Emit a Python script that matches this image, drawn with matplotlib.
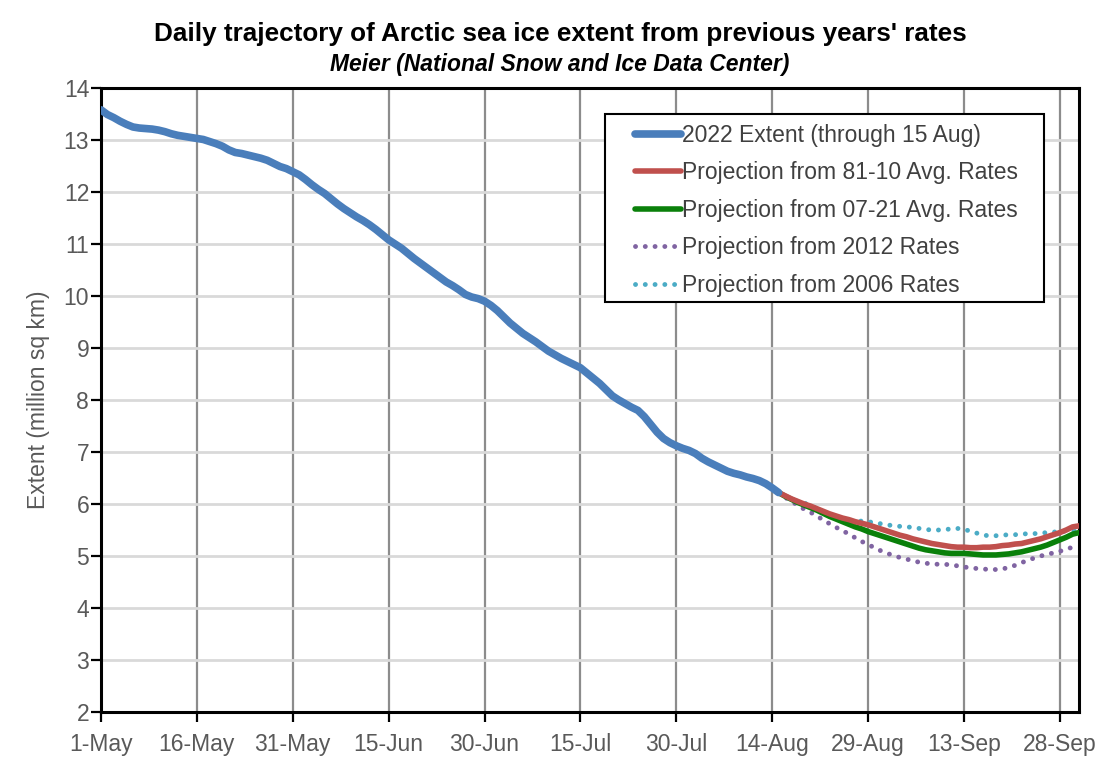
import matplotlib
matplotlib.use("Agg")
import matplotlib.pyplot as plt
from matplotlib.patches import Rectangle
import numpy as np

# ---- data ----
x_tick_labels = ["1-May", "16-May", "31-May", "15-Jun", "30-Jun", "15-Jul",
                 "30-Jul", "14-Aug", "29-Aug", "13-Sep", "28-Sep"]
x_tick_days = [0, 15, 30, 45, 60, 75, 90, 105, 120, 135, 150]

extent_2022 = [13.58, 13.49, 13.43, 13.36, 13.30, 13.25, 13.23, 13.22, 13.21, 13.19,
               13.16, 13.12, 13.09, 13.07, 13.05, 13.03, 13.01, 12.97, 12.93, 12.88,
               12.81, 12.76, 12.74, 12.71, 12.68, 12.65, 12.61, 12.55, 12.49, 12.45,
               12.39, 12.33, 12.24, 12.14, 12.05, 11.97, 11.87, 11.77, 11.68, 11.60,
               11.52, 11.45, 11.37, 11.28, 11.18, 11.08, 11.00, 10.92, 10.82, 10.72,
               10.63, 10.54, 10.45, 10.36, 10.27, 10.20, 10.12, 10.03, 9.98, 9.95,
               9.90, 9.82, 9.72, 9.60, 9.48, 9.38, 9.28, 9.20, 9.12, 9.03,
               8.94, 8.87, 8.80, 8.74, 8.68, 8.62, 8.52, 8.42, 8.32, 8.20,
               8.08, 8.00, 7.93, 7.86, 7.80, 7.68, 7.53, 7.38, 7.26, 7.18,
               7.12, 7.07, 7.03, 6.97, 6.88, 6.81, 6.75, 6.69, 6.63, 6.59,
               6.56, 6.52, 6.49, 6.45, 6.39, 6.31, 6.22]

proj_start_day = 106
proj_8110 = [6.22, 6.16, 6.10, 6.05, 6.00, 5.96, 5.91, 5.86, 5.81, 5.77,
             5.73, 5.70, 5.66, 5.63, 5.60, 5.56, 5.52, 5.48, 5.44, 5.40,
             5.37, 5.33, 5.30, 5.27, 5.24, 5.22, 5.20, 5.18, 5.17, 5.17,
             5.16, 5.16, 5.17, 5.17, 5.18, 5.20, 5.21, 5.23, 5.24, 5.27,
             5.30, 5.33, 5.37, 5.41, 5.45, 5.50, 5.56, 5.58]
proj_0721 = [6.22, 6.15, 6.09, 6.03, 5.98, 5.93, 5.88, 5.82, 5.76, 5.71,
             5.66, 5.61, 5.56, 5.52, 5.47, 5.43, 5.39, 5.35, 5.31, 5.27,
             5.23, 5.19, 5.15, 5.12, 5.10, 5.08, 5.06, 5.05, 5.05, 5.05,
             5.04, 5.03, 5.02, 5.02, 5.02, 5.03, 5.04, 5.06, 5.08, 5.11,
             5.14, 5.17, 5.21, 5.26, 5.31, 5.36, 5.42, 5.45]
proj_2012 = [6.22, 6.13, 6.05, 5.98, 5.90, 5.84, 5.77, 5.69, 5.62, 5.55,
             5.49, 5.42, 5.35, 5.28, 5.22, 5.16, 5.10, 5.05, 5.01, 4.97,
             4.94, 4.91, 4.88, 4.86, 4.85, 4.84, 4.84, 4.83, 4.81, 4.79,
             4.77, 4.76, 4.75, 4.74, 4.74, 4.75, 4.78, 4.82, 4.87, 4.92,
             4.96, 5.00, 5.03, 5.06, 5.09, 5.13, 5.17, 5.19]
proj_2006 = [6.22, 6.15, 6.09, 6.05, 6.02, 5.97, 5.91, 5.85, 5.80, 5.75,
             5.71, 5.69, 5.68, 5.67, 5.66, 5.64, 5.62, 5.60, 5.58, 5.57,
             5.56, 5.55, 5.53, 5.51, 5.50, 5.50, 5.51, 5.52, 5.53, 5.51,
             5.48, 5.44, 5.40, 5.39, 5.39, 5.40, 5.41, 5.41, 5.42, 5.43,
             5.43, 5.44, 5.45, 5.46, 5.47, 5.48, 5.48, 5.49]

labels = ["2022 Extent (through 15 Aug)", "Projection from 81-10 Avg. Rates",
          "Projection from 07-21 Avg. Rates", "Projection from 2012 Rates",
          "Projection from 2006 Rates"]

# ---- plot ----
plt.rcParams['font.family'] = ['Liberation Sans', 'DejaVu Sans']
W, H = 1120, 772
fig = plt.figure(figsize=(W / 100, H / 100), dpi=100)
ax = fig.add_axes([101/W, 1-712/H, (1079-101)/W, (712-88)/H])

days_2022 = np.arange(len(extent_2022))
days_proj = np.arange(proj_start_day, proj_start_day + len(proj_8110))

dot = (0, (0.01, 2.0))
ax.plot(days_proj, proj_2006, color='#4BACC6', lw=3.5, linestyle=dot,
        dash_capstyle='round', label=labels[4], zorder=3)
ax.plot(days_proj, proj_2012, color='#8064A2', lw=3.5, linestyle=dot,
        dash_capstyle='round', label=labels[3], zorder=3)
ax.plot(days_proj, proj_0721, color='#0A800A', lw=4, solid_capstyle='round',
        label=labels[2], zorder=4)
ax.plot(days_proj, proj_8110, color='#C0504D', lw=4, solid_capstyle='round',
        label=labels[1], zorder=4)
ax.plot(days_2022, extent_2022, color='#4A7EBB', lw=5.5, solid_capstyle='round',
        label=labels[0], zorder=5)

ax.set_xlim(0, 153)
ax.set_ylim(2, 14)
ax.set_xticks(x_tick_days)
ax.set_xticklabels(x_tick_labels)
ax.set_yticks(range(2, 15))

ax.grid(axis='x', color='#8c8c8c', lw=1.6, zorder=1)
ax.grid(axis='y', color='#d9d9d9', lw=2.0, zorder=1)
ax.set_axisbelow(True)
for s in ax.spines.values():
    s.set_color('black')
    s.set_linewidth(2.2)
ax.tick_params(axis='both', direction='out', length=7, width=1.6, color='black',
               labelsize=16.5, labelcolor='#595959')
ax.tick_params(axis='x', pad=8)
ax.tick_params(axis='y', pad=1.5)

ax.set_ylabel("Extent (million sq km)", fontsize=16.5, color='#595959', labelpad=10)

fig.text(0.5, 1-34/H, "Daily trajectory of Arctic sea ice extent from previous years' rates",
         ha='center', va='center', fontsize=18.8, fontweight='bold')
fig.text(0.5, 1-65/H, "Meier (National Snow and Ice Data Center)",
         ha='center', va='center', fontsize=16.5, fontweight='bold', style='italic')

handles, labs = ax.get_legend_handles_labels()
order = [4, 3, 2, 1, 0]
leg = ax.legend([handles[i] for i in order], [labs[i] for i in order],
                loc='upper left', bbox_to_anchor=((635-101)/978, (712-124)/624),
                borderaxespad=0, frameon=False, fontsize=16.5,
                handlelength=2.0, handletextpad=0.05, labelspacing=0.63,
                borderpad=0, labelcolor='#404040')
leg.set_zorder(10)

fig.canvas.draw()
bb = leg.get_window_extent()
padl, padr, padt, padb = 30, 26, 10, 5
frame = Rectangle(((bb.x0 - padl) / W, (bb.y0 - padb) / H),
                  (bb.width + padl + padr) / W, (bb.height + padt + padb) / H,
                  transform=fig.transFigure, facecolor='white', edgecolor='black',
                  lw=1.5, zorder=9, clip_on=False)
ax.add_patch(frame)

fig.savefig("out.png", dpi=100)
